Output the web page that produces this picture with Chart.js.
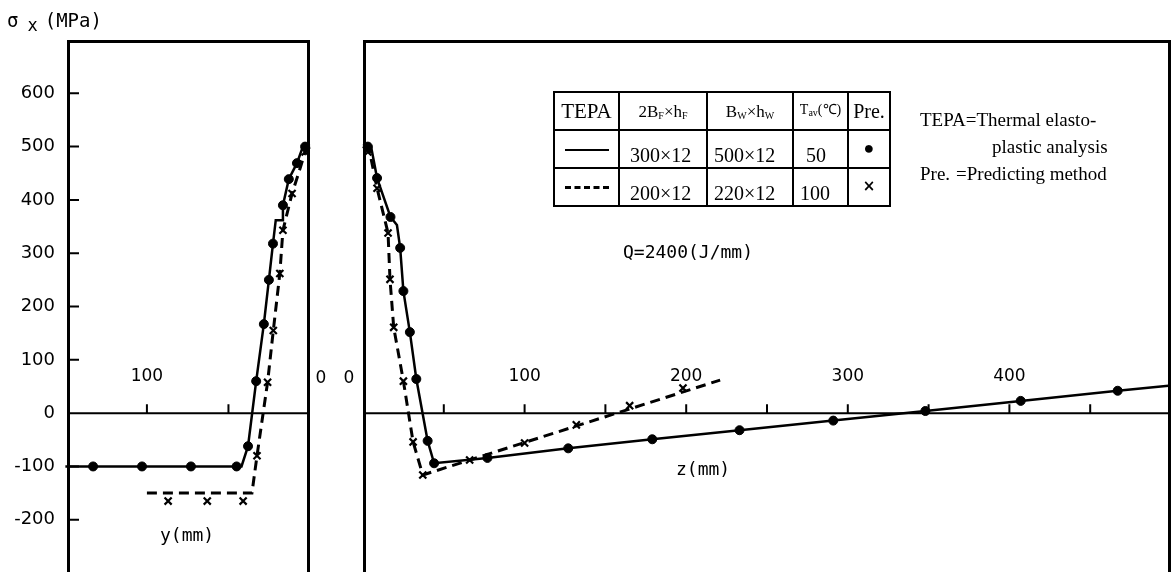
<!DOCTYPE html>
<html>
<head>
<meta charset="utf-8">
<script src="https://cdn.jsdelivr.net/npm/chart.js@4.4.0/dist/chart.umd.min.js"></script>
<style>
  body { margin: 0; width: 1171px; height: 572px; overflow: hidden; background: #fff; position: relative; font-family: "Liberation Serif", serif; color: #000; }
  canvas { position: absolute; top: 0; }
  #cl { left: 0; }
  #cr { left: 335px; }
  .note { position: absolute; font-size: 19px; line-height: 19px; white-space: nowrap; }
  .mono { position: absolute; font-family: "DejaVu Sans Mono", monospace; font-size: 18px; line-height: 18px; white-space: nowrap; }
  #legend { position: absolute; left: 553px; top: 91px; border-collapse: collapse; table-layout: fixed; }
  #legend td { border: 2px solid #000; padding: 0 0 2px 0; height: 36px; box-sizing: border-box; font-size: 20px; line-height: 20px; vertical-align: bottom; white-space: nowrap; }
  #legend tr.head td { vertical-align: middle; text-align: center; padding: 0; }
  #legend sub { font-size: 10px; vertical-align: -2px; }
  .sample { display: block; margin: 0 auto 14px auto; width: 44px; height: 0; }
</style>
</head>
<body>
<canvas id="cl" width="335" height="572"></canvas>
<canvas id="cr" width="836" height="572"></canvas>

<div class="mono" style="left:7px;top:11px;font-size:19px">σ<span style="font-size:17px;position:relative;top:4px;margin-left:9px">x</span><span style="margin-left:7px">(MPa)</span></div>
<div class="mono" style="left:160px;top:526px">y(mm)</div>
<div class="mono" style="left:676px;top:460px">z(mm)</div>
<div class="mono" style="left:623px;top:243px">Q=2400(J/mm)</div>

<table id="legend">
  <colgroup><col style="width:65px"><col style="width:88px"><col style="width:86px"><col style="width:55px"><col style="width:42px"></colgroup>
  <tr class="head" style="height:38px">
    <td style="font-size:21px">TEPA</td>
    <td style="font-size:17px;padding-top:6px">2B<sub>F</sub>×h<sub>F</sub></td>
    <td style="font-size:17px;padding-top:6px">B<sub>W</sub>×h<sub>W</sub></td>
    <td style="font-size:14px">T<sub>av</sub>(℃)</td>
    <td style="font-size:20px">Pre.</td>
  </tr>
  <tr style="height:38px">
    <td><span class="sample" style="border-top:2px solid #000"></span></td>
    <td style="padding-left:10px">300×12</td>
    <td style="padding-left:6px">500×12</td>
    <td style="padding-left:12px">50</td>
    <td style="text-align:center;vertical-align:middle;font-size:18px">●</td>
  </tr>
  <tr style="height:38px">
    <td><span class="sample" style="border-top:3px dashed #000"></span></td>
    <td style="padding-left:10px">200×12</td>
    <td style="padding-left:6px">220×12</td>
    <td style="padding-left:6px">100</td>
    <td style="text-align:center;vertical-align:middle;font-family:'DejaVu Sans';font-size:15px;font-weight:bold">×</td>
  </tr>
</table>

<div class="note" style="left:920px;top:110px">TEPA=Thermal elasto-</div>
<div class="note" style="left:992px;top:137px">plastic analysis</div>
<div class="note" style="left:920px;top:164px">Pre.<span style="margin-left:6px">=Predicting method</span></div>

<script>
// ---------------- left panel: sigma_x vs y (mm) ----------------
const yLineA  = [150, 42, 38, 33, 28.3, 25.2, 22.7, 21, 16.6, 16.6, 13, 8, 4, 0];
const sLineA  = [-100, -100, -62, 60, 167, 250, 318, 362, 362, 390, 439, 469, 503, 505];
const yLineB  = [100, 35.6, 32.5, 26, 22.5, 18.5, 16.6, 11, 7, 3, 0];
const sLineB  = [-150, -150, -80, 58, 155, 262, 343, 412, 450, 490, 500];
const yDotsA  = [133, 103, 73, 45, 38, 33, 28.3, 25.2, 22.7, 16.6, 13, 8, 3];
const sDotsA  = [-100, -100, -100, -100, -62, 60, 167, 250, 318, 390, 439, 469, 500];
const yCrossB = [87, 63, 41, 32.5, 26, 22.5, 18.5, 16.6, 11, 3];
const sCrossB = [-165, -165, -165, -80, 58, 155, 262, 343, 412, 490];

// ---------------- right panel: sigma_x vs z (mm) ----------------
const zLineA  = [0, 5, 8.7, 17, 21, 23, 25, 29, 33, 40, 44, 77, 127, 179, 233, 291, 348, 407, 467, 500];
const tLineA  = [505, 500, 441, 368, 353, 310, 229, 152, 64, -52, -94, -84, -66, -49, -32, -14, 4, 23, 42, 52];
const zLineB  = [0, 4, 8.7, 15.5, 16.7, 19, 25, 31, 37, 221];
const tLineB  = [500, 492, 422, 338, 251, 161, 60, -54, -116, 62];
const zDotsA  = [3, 8.7, 17, 23, 25, 29, 33, 40, 44, 77, 127, 179, 233, 291, 348, 407, 467];
const tDotsA  = [500, 441, 368, 310, 229, 152, 64, -52, -94, -84, -66, -49, -32, -14, 4, 23, 42];
const zCrossB = [3, 8.7, 15.5, 16.7, 19, 25, 31, 37, 66, 100, 132, 165, 198];
const tCrossB = [490, 422, 338, 251, 161, 60, -54, -116, -88, -56, -22, 14, 47];

// ticks and labels
const yTicks       = [-200, -100, 0, 100, 200, 300, 400, 500, 600];
const leftXTicks   = [50, 100];
const leftXLabels  = [100];
const rightXTicks  = [50, 100, 150, 200, 250, 300, 350, 400, 450];
const rightXLabels = [100, 200, 300, 400];

const pts = (xs, ys) => xs.map((v, i) => ({ x: v, y: ys[i] }));

function makeSets(lineA, lineB, dotsA, crossB) {
  return [
    { data: lineA, showLine: true, borderColor: '#000', borderWidth: 2.5, pointRadius: 0, clip: false },
    { data: lineB, showLine: true, borderColor: '#000', borderWidth: 3, borderDash: [10, 6], pointRadius: 0, clip: false },
    { data: dotsA, showLine: false, pointStyle: 'circle', pointRadius: 4.5, backgroundColor: '#000', borderColor: '#000', borderWidth: 1, clip: false },
    { data: crossB, showLine: false, pointStyle: 'crossRot', pointRadius: 5, borderColor: '#000', borderWidth: 2.2, clip: false }
  ];
}

// frame, zero axis, tick marks and tick labels
const framePlugin = {
  id: 'framePlugin',
  afterDatasetsDraw(chart, args, o) {
    const { ctx, chartArea: a, scales: { x, y } } = chart;
    ctx.save();
    ctx.strokeStyle = '#000';
    ctx.lineWidth = 3;
    ctx.beginPath();
    ctx.moveTo(a.left + 1.5, a.bottom + 5);
    ctx.lineTo(a.left + 1.5, a.top + 1.5);
    ctx.lineTo(a.right - 1.5, a.top + 1.5);
    ctx.lineTo(a.right - 1.5, a.bottom + 5);
    ctx.stroke();

    const y0 = y.getPixelForValue(0);
    ctx.lineWidth = 2;
    ctx.beginPath();
    ctx.moveTo(a.left, y0);
    ctx.lineTo(a.right, y0);
    o.xTicks.forEach(v => {
      const px = x.getPixelForValue(v);
      ctx.moveTo(px, y0);
      ctx.lineTo(px, y0 - 9);
    });
    if (o.yTicks) {
      o.yTicks.forEach(v => {
        const py = y.getPixelForValue(v);
        ctx.moveTo(a.left, py);
        ctx.lineTo(a.left + 12, py);
      });
    }
    ctx.stroke();

    ctx.fillStyle = '#000';
    ctx.font = '17px "DejaVu Sans"';
    ctx.textAlign = 'center';
    ctx.textBaseline = 'middle';
    o.xLabels.forEach(v => ctx.fillText(String(v), x.getPixelForValue(v), y0 - 37));
    ctx.fillText('0', x.getPixelForValue(0) + o.zeroShift, y0 - 35);
    ctx.restore();
  }
};

const yScale = {
  min: -298, max: 700,
  grid: { display: false, drawTicks: false },
  border: { display: false }
};

new Chart(document.getElementById('cl'), {
  type: 'scatter',
  data: { datasets: makeSets(pts(yLineA, sLineA), pts(yLineB, sLineB), pts(yDotsA, sDotsA), pts(yCrossB, sCrossB)) },
  options: {
    responsive: false, animation: false, devicePixelRatio: 1,
    layout: { autoPadding: false, padding: { top: 40, right: 25, bottom: 0, left: 0 } },
    plugins: {
      legend: { display: false }, tooltip: { enabled: false },
      framePlugin: { xTicks: leftXTicks, xLabels: leftXLabels, yTicks: yTicks, zeroShift: 11 }
    },
    scales: {
      x: { type: 'linear', reverse: true, min: 0, max: 149, display: false },
      y: Object.assign({}, yScale, {
        display: true,
        afterFit: s => { s.width = 67; s.paddingTop = 0; s.paddingBottom = 0; },
        afterBuildTicks: s => { s.ticks = yTicks.map(v => ({ value: v })); },
        ticks: { padding: 12, color: '#000', font: { family: 'DejaVu Sans', size: 18 } }
      })
    }
  },
  plugins: [framePlugin]
});

new Chart(document.getElementById('cr'), {
  type: 'scatter',
  data: { datasets: makeSets(pts(zLineA, tLineA), pts(zLineB, tLineB), pts(zDotsA, tDotsA), pts(zCrossB, tCrossB)) },
  options: {
    responsive: false, animation: false, devicePixelRatio: 1,
    layout: { autoPadding: false, padding: { top: 40, right: 0, bottom: 0, left: 28 } },
    plugins: {
      legend: { display: false }, tooltip: { enabled: false },
      framePlugin: { xTicks: rightXTicks, xLabels: rightXLabels, zeroShift: -14 }
    },
    scales: {
      x: { type: 'linear', min: 0, max: 500, display: false },
      y: Object.assign({}, yScale, { display: false })
    }
  },
  plugins: [framePlugin]
});
</script>
</body>
</html>
